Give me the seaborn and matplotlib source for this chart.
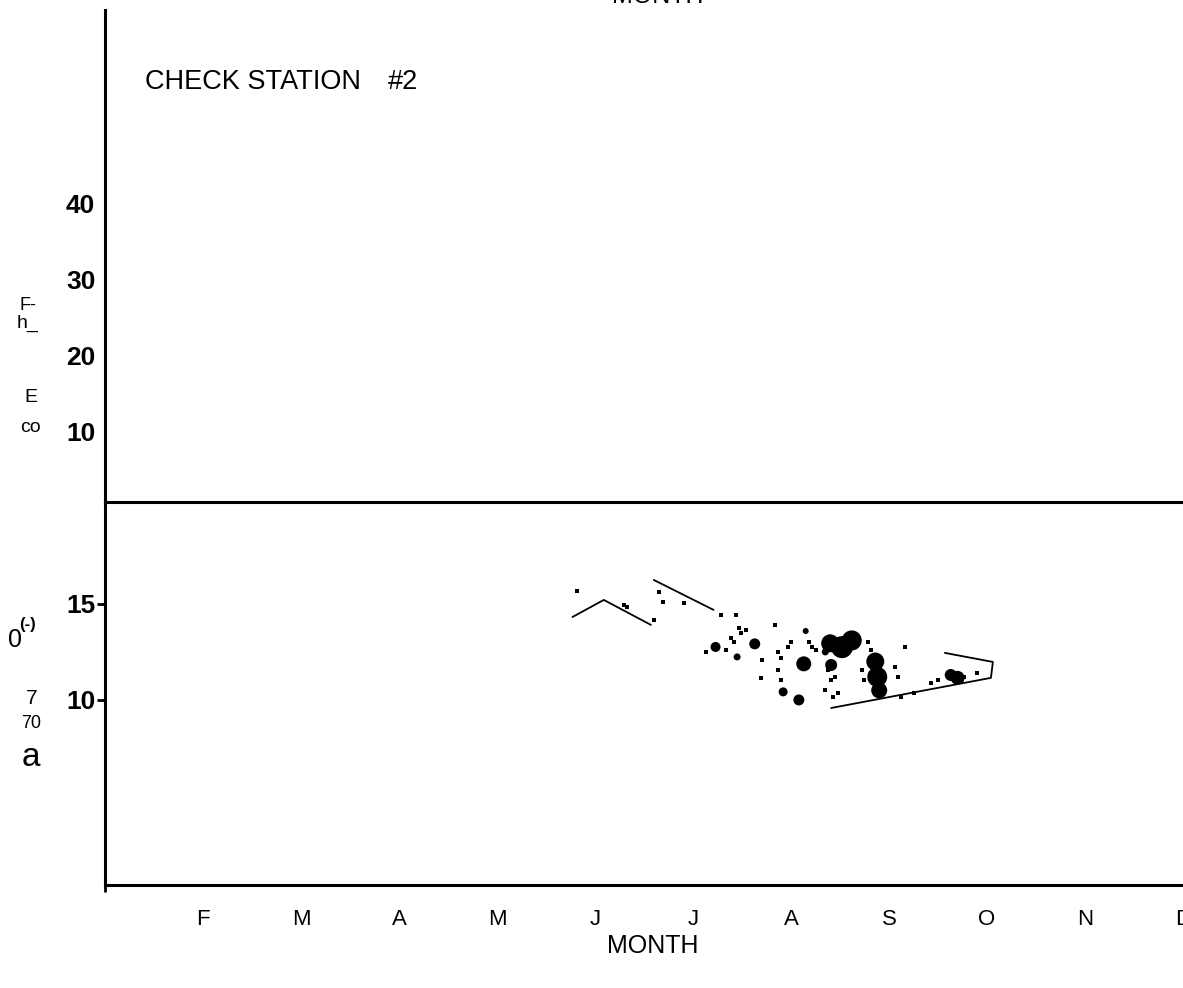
import numpy as np
import pandas as pd
import matplotlib.pyplot as plt
import seaborn as sns

# month axis (F = 1 ... D = 11)
months = ['F', 'M', 'A', 'M', 'J', 'J', 'A', 'S', 'O', 'N', 'D']
month_pos = [1, 2, 3, 4, 5, 6, 7, 8, 9, 10, 11]

top_ticks = [10, 20, 30, 40]
bottom_ticks = [10, 15]

# traced lines in the lower panel
seg1_x = [4.77, 5.09, 5.57]
seg1_y = [14.32, 15.21, 13.91]
seg2_x = [5.60, 6.21]
seg2_y = [16.25, 14.69]
edge_x = [8.57, 9.06, 9.04, 7.41]
edge_y = [12.45, 11.98, 11.15, 9.58]

# scattered small dots
dot_x = [4.82, 5.65, 5.69, 5.91, 5.30, 5.33, 5.60, 6.29, 6.44, 6.47, 6.54, 6.49,
         6.84, 6.13, 6.34, 6.39, 6.42, 6.70, 6.87, 6.90, 6.97, 7.00, 6.87, 6.90,
         6.69, 7.21, 7.25, 7.18, 7.38, 7.41, 7.45, 7.35, 7.43, 7.48, 7.79, 7.82,
         7.72, 7.74, 8.16, 8.06, 8.09, 8.12, 8.26, 8.43, 8.50, 8.60, 8.77, 8.90]
dot_y = [15.68, 15.63, 15.10, 15.05, 14.95, 14.84, 14.17, 14.43, 14.43, 13.75, 13.65, 13.49,
         13.91, 12.50, 12.60, 13.23, 13.02, 12.08, 12.50, 12.19, 12.76, 13.02, 11.56, 11.04,
         11.15, 12.76, 12.60, 13.02, 11.56, 11.04, 11.20, 10.52, 10.16, 10.36, 13.02, 12.60,
         11.56, 11.04, 12.76, 11.72, 11.20, 10.16, 10.36, 10.89, 11.04, 11.20, 11.20, 11.41]

# dense dark patches (weight ~ patch width)
blob_x = [7.40, 7.52, 7.62, 7.41, 7.86, 7.88, 7.90, 8.63, 8.70, 7.13, 6.63, 6.23,
          6.92, 7.08, 6.45, 7.15, 7.35]
blob_y = [12.95, 12.75, 13.10, 11.82, 12.00, 11.20, 10.50, 11.30, 11.15, 11.88, 12.92, 12.76,
          10.42, 10.00, 12.24, 13.59, 12.50]
blob_w = [18, 22, 20, 12, 18, 20, 16, 12, 14, 15, 11, 10, 9, 11, 7, 6, 7]

sns.set_style('white')
plt.rcParams['font.family'] = ['Liberation Sans', 'DejaVu Sans']
plt.rcParams['text.color'] = 'black'
plt.rcParams['xtick.color'] = 'black'
plt.rcParams['ytick.color'] = 'black'

W, H = 1183, 988
fig = plt.figure(figsize=(W / 100, H / 100), dpi=100)

left = 105 / W
ax_top = fig.add_axes([left, (H - 502) / H, 1 - left, (502 - 10) / H])
ax_bot = fig.add_axes([left, (H - 885) / H, 1 - left, (885 - 502) / H])

for ax in (ax_top, ax_bot):
    ax.set_xlim(0, 10.96)
    for s in ax.spines.values():
        s.set_linewidth(2.2)
        s.set_color('black')
    ax.spines['right'].set_visible(False)

# top panel: empty
ax_top.set_ylim(0.66, 65.4)
ax_top.spines['top'].set_visible(False)
ax_top.spines['bottom'].set_visible(False)
ax_top.set_xticks([])
ax_top.set_yticks(top_ticks)
ax_top.set_yticklabels([str(t) for t in top_ticks], fontsize=19, fontweight='bold')
ax_top.tick_params(axis='y', length=0, pad=7)

# bottom panel
ax_bot.set_ylim(0.36, 20.31)
sns.lineplot(x=seg1_x, y=seg1_y, sort=False, color='black', lw=1.3, ax=ax_bot)
sns.lineplot(x=seg2_x, y=seg2_y, sort=False, color='black', lw=1.3, ax=ax_bot)
sns.lineplot(x=edge_x, y=edge_y, sort=False, color='black', lw=1.3, ax=ax_bot)
sns.scatterplot(x=dot_x, y=dot_y, color='black', s=6, linewidth=0, marker='s', ax=ax_bot)

blobs = pd.DataFrame({'x': blob_x, 'y': blob_y, 'w': blob_w})
blobs['area'] = (0.72 * blobs['w']) ** 2
sns.scatterplot(data=blobs, x='x', y='y', size='area',
                sizes=(blobs['area'].min(), blobs['area'].max()),
                color='black', linewidth=0, legend=False, ax=ax_bot)
ax_bot.set_xlabel('')
ax_bot.set_ylabel('')

ax_bot.set_yticks(bottom_ticks)
ax_bot.set_yticklabels([str(t) for t in bottom_ticks], fontsize=19, fontweight='bold')
ax_bot.tick_params(axis='y', direction='out', length=6, width=2, pad=1, left=True)
ax_bot.set_xticks(month_pos)
ax_bot.set_xticklabels(months, fontsize=16)
ax_bot.tick_params(axis='x', length=0, pad=17)
ax_bot.set_xticks([0], minor=True)
ax_bot.tick_params(axis='x', which='minor', direction='out', length=5, width=2, bottom=True)

# texts
fig.text(658 / W, 1.004, 'MONTH', ha='center', va='center', fontsize=18)
fig.text(653 / W, 1 - 946 / H, 'MONTH', ha='center', va='center', fontsize=18)
narrow = ['Liberation Sans Narrow', 'Liberation Sans', 'DejaVu Sans']
fig.text(145 / W, 1 - 82 / H, 'CHECK STATION', ha='left', va='center', fontsize=19.5, family=narrow)
fig.text(388 / W, 1 - 82 / H, '#2', ha='left', va='center', fontsize=19.5, family=narrow)

fig.text(28 / W, 1 - 306 / H, 'F-', ha='center', va='center', fontsize=13, family=narrow)
fig.text(28 / W, 1 - 323 / H, 'h_', ha='center', va='center', fontsize=14, family=narrow)
fig.text(31 / W, 1 - 398 / H, 'E', ha='center', va='center', fontsize=14, family=narrow)
fig.text(30 / W, 1 - 428 / H, 'co', ha='center', va='center', fontsize=14, family=narrow)
fig.text(15 / W, 1 - 640 / H, '0', ha='center', va='center', fontsize=18, family=narrow)
fig.text(28 / W, 1 - 625 / H, '(-)', ha='center', va='center', fontsize=12, family=narrow, fontweight='bold')
fig.text(32 / W, 1 - 698 / H, '7', ha='center', va='center', fontsize=15, family=narrow)
fig.text(31 / W, 1 - 723 / H, '70', ha='center', va='center', fontsize=13, family=narrow)
fig.text(31 / W, 1 - 758 / H, 'a', ha='center', va='center', fontsize=24, family=narrow)

fig.savefig('out.png', dpi=100)
